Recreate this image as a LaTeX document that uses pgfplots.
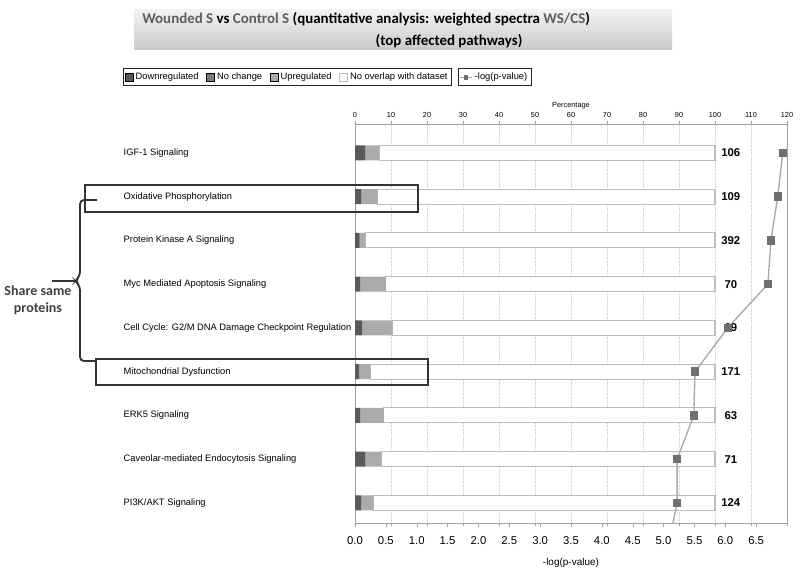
\documentclass[border=0pt]{standalone}
\usepackage{pgfplots}
\pgfplotsset{compat=1.18}
\usepackage{pgfplotstable}
\usepackage{fontspec}
\setmainfont{Liberation Sans}
\newfontfamily\calibri{Carlito}
\definecolor{cdown}{HTML}{595959}
\definecolor{cnoch}{HTML}{7A7A7A}
\definecolor{cup}{HTML}{ABABAB}
\definecolor{cborder}{HTML}{BDBDBD}
\definecolor{caxis}{HTML}{A0A0A0}
\definecolor{cline}{HTML}{A8A8A8}
\definecolor{cmark}{HTML}{707070}
\definecolor{ctitlegray}{HTML}{5E5E5E}

\pgfplotstableread{
idx down nochg up rest
0 2.8 0 3.9 93.3
1 1.7 0 4.6 93.7
2 1.3 0 1.6 97.1
3 1.5 0 7.1 91.4
4 2.0 0 8.4 89.6
5 1.2 0 3.1 95.7
6 1.5 0 6.5 92.0
7 2.8 0 4.5 92.7
8 1.7 0 3.4 94.9
}\bars

\pgfplotstableread{
idx logp
0 6.93
1 6.85
2 6.74
3 6.69
4 6.04
5 5.51
6 5.49
7 5.22
8 5.22
9 5.07
}\pvals

\pgfplotstableread{
idx x label
0 6.09 106
1 6.09 109
2 6.09 392
3 6.09 70
4 6.09 69
5 6.09 171
6 6.09 63
7 6.09 71
8 6.09 124
}\counts

\begin{document}
\begin{tikzpicture}
\useasboundingbox (0,0) rectangle (600pt,-435pt);

% ---------- bar axis (percentage) ----------
\begin{axis}[
  at={(266.25pt,-93pt)}, anchor=north west,
  scale only axis, width=324pt, height=299.25pt,
  xbar stacked, bar width=11.25pt,
  xmin=0, xmax=120, ymin=-0.66, ymax=8.46, y dir=reverse,
  axis line style={caxis},
  /pgf/number format/assume math mode=true,
  xtick={0,10,...,120},
  xticklabel pos=upper,
  xticklabel style={font=\fontsize{5.5}{6}\selectfont, yshift=-1pt},
  xlabel={Percentage},
  xlabel style={font=\fontsize{5.5}{6}\selectfont, at={(axis description cs:0.5,1)}, anchor=south, yshift=8pt},
  x tick style={caxis}, major tick length=2pt, tick align=outside,
  xmajorgrids, grid style={densely dotted, gray!40},
  ytick={0,...,8},
  yticklabels={IGF-1 Signaling, Oxidative Phosphorylation, Protein Kinase A Signaling, Myc Mediated Apoptosis Signaling, Cell Cycle: G2/M DNA Damage Checkpoint Regulation, Mitochondrial Dysfunction, ERK5 Signaling, Caveolar-mediated Endocytosis Signaling, PI3K/AKT Signaling},
  yticklabel style={anchor=west, xshift=-175pt, font=\fontsize{7}{8}\selectfont},
  y tick style={draw=none},
  area legend,
  legend columns=4,
  legend style={at={(-0.537,1.140)}, anchor=north west, draw=black!85, line width=0.9pt,
    font=\fontsize{7}{7.5}\selectfont, inner sep=1pt,
    /tikz/every even column/.append style={column sep=3.8pt}},
  legend image code/.code={\draw[#1, line width=0.4pt] (0cm,-0.1cm) rectangle (0.2cm,0.1cm);},
]
\addplot[fill=cdown, draw=none] table[x=down, y=idx] \bars;
\addplot[fill=cnoch, draw=none] table[x=nochg, y=idx] \bars;
\addplot[fill=cup, draw=none] table[x=up, y=idx] \bars;
\addplot[fill=white, draw=cborder, line width=0.8pt] table[x=rest, y=idx] \bars;
\legend{Downregulated, No change, Upregulated, No overlap with dataset}
\end{axis}

% ---------- line axis (-log p) ----------
\begin{axis}[
  at={(266.25pt,-93pt)}, anchor=north west,
  scale only axis, width=324pt, height=299.25pt,
  xmin=0, xmax=7, ymin=-0.66, ymax=8.46, y dir=reverse,
  axis y line=none, axis x line*=bottom,
  x axis line style={caxis, -},
  xtick={0,0.5,...,6.5},
  x tick style={caxis}, major tick length=3pt, tick align=outside,
  xticklabel style={/pgf/number format/fixed, /pgf/number format/fixed zerofill, /pgf/number format/precision=1, font=\fontsize{8.5}{9}\selectfont, yshift=-4pt},
  /pgf/number format/assume math mode=true,
  xlabel={-log(p-value)},
  xlabel style={font=\fontsize{7.5}{8}\selectfont, yshift=-3pt},
  legend style={at={(0.238,1.140)}, anchor=north west, draw=black!85, line width=0.9pt,
    font=\fontsize{7}{7.5}\selectfont, inner sep=1pt},
  legend image code/.code={\draw[#1, line width=0.8pt] (0cm,0cm) -- (0.3cm,0cm); \fill[cmark] (0.11cm,-0.05cm) rectangle (0.19cm,0.05cm);},
]
\addplot[draw=none, mark=none, forget plot, nodes near coords, point meta=explicit symbolic,
  nodes near coords style={anchor=center, font=\bfseries\fontsize{8.5}{9}\selectfont, text=black}]
  table[x=x, y=idx, meta=label] \counts;
\addplot[cline, line width=1pt, mark=square*, mark size=2.6pt, mark options={fill=cmark, draw=cmark}] table[x=logp, y=idx] \pvals;
\legend{-log(p-value)}
\end{axis}

% ---------- annotations ----------
\begin{scope}[x=0.75pt, y=-0.75pt]
\shade[top color=gray!10, bottom color=gray!42] (134,10) rectangle (672,50);
\node[anchor=west, font=\calibri\bfseries\fontsize{11.2}{13}\selectfont, inner sep=0pt] at (142,19)
  {\textcolor{ctitlegray}{Wounded S} vs \textcolor{ctitlegray}{Control S} (quantitative analysis: weighted spectra \textcolor{ctitlegray}{WS/CS})};
\node[font=\calibri\bfseries\fontsize{11.2}{13}\selectfont, inner sep=0pt] at (449,41) {(top affected pathways)};

\node[font=\calibri\bfseries\fontsize{10.5}{12.5}\selectfont, text=black!75, align=center, inner sep=0pt] at (38,300) {Share same\\proteins};
\draw[line width=1.4pt, black!80, rounded corners=3pt] (97,200) -- (80,200) -- (80,276) -- (75,281) -- (80,286) -- (80,361) -- (96,361);
\draw[line width=1.4pt, black!80] (75,281) -- (52,281);

\draw[line width=1.5pt, black!80] (85,185) rectangle (418,212);
\draw[line width=1.5pt, black!80] (96,359) rectangle (428,385);
\end{scope}
\end{tikzpicture}
\end{document}
